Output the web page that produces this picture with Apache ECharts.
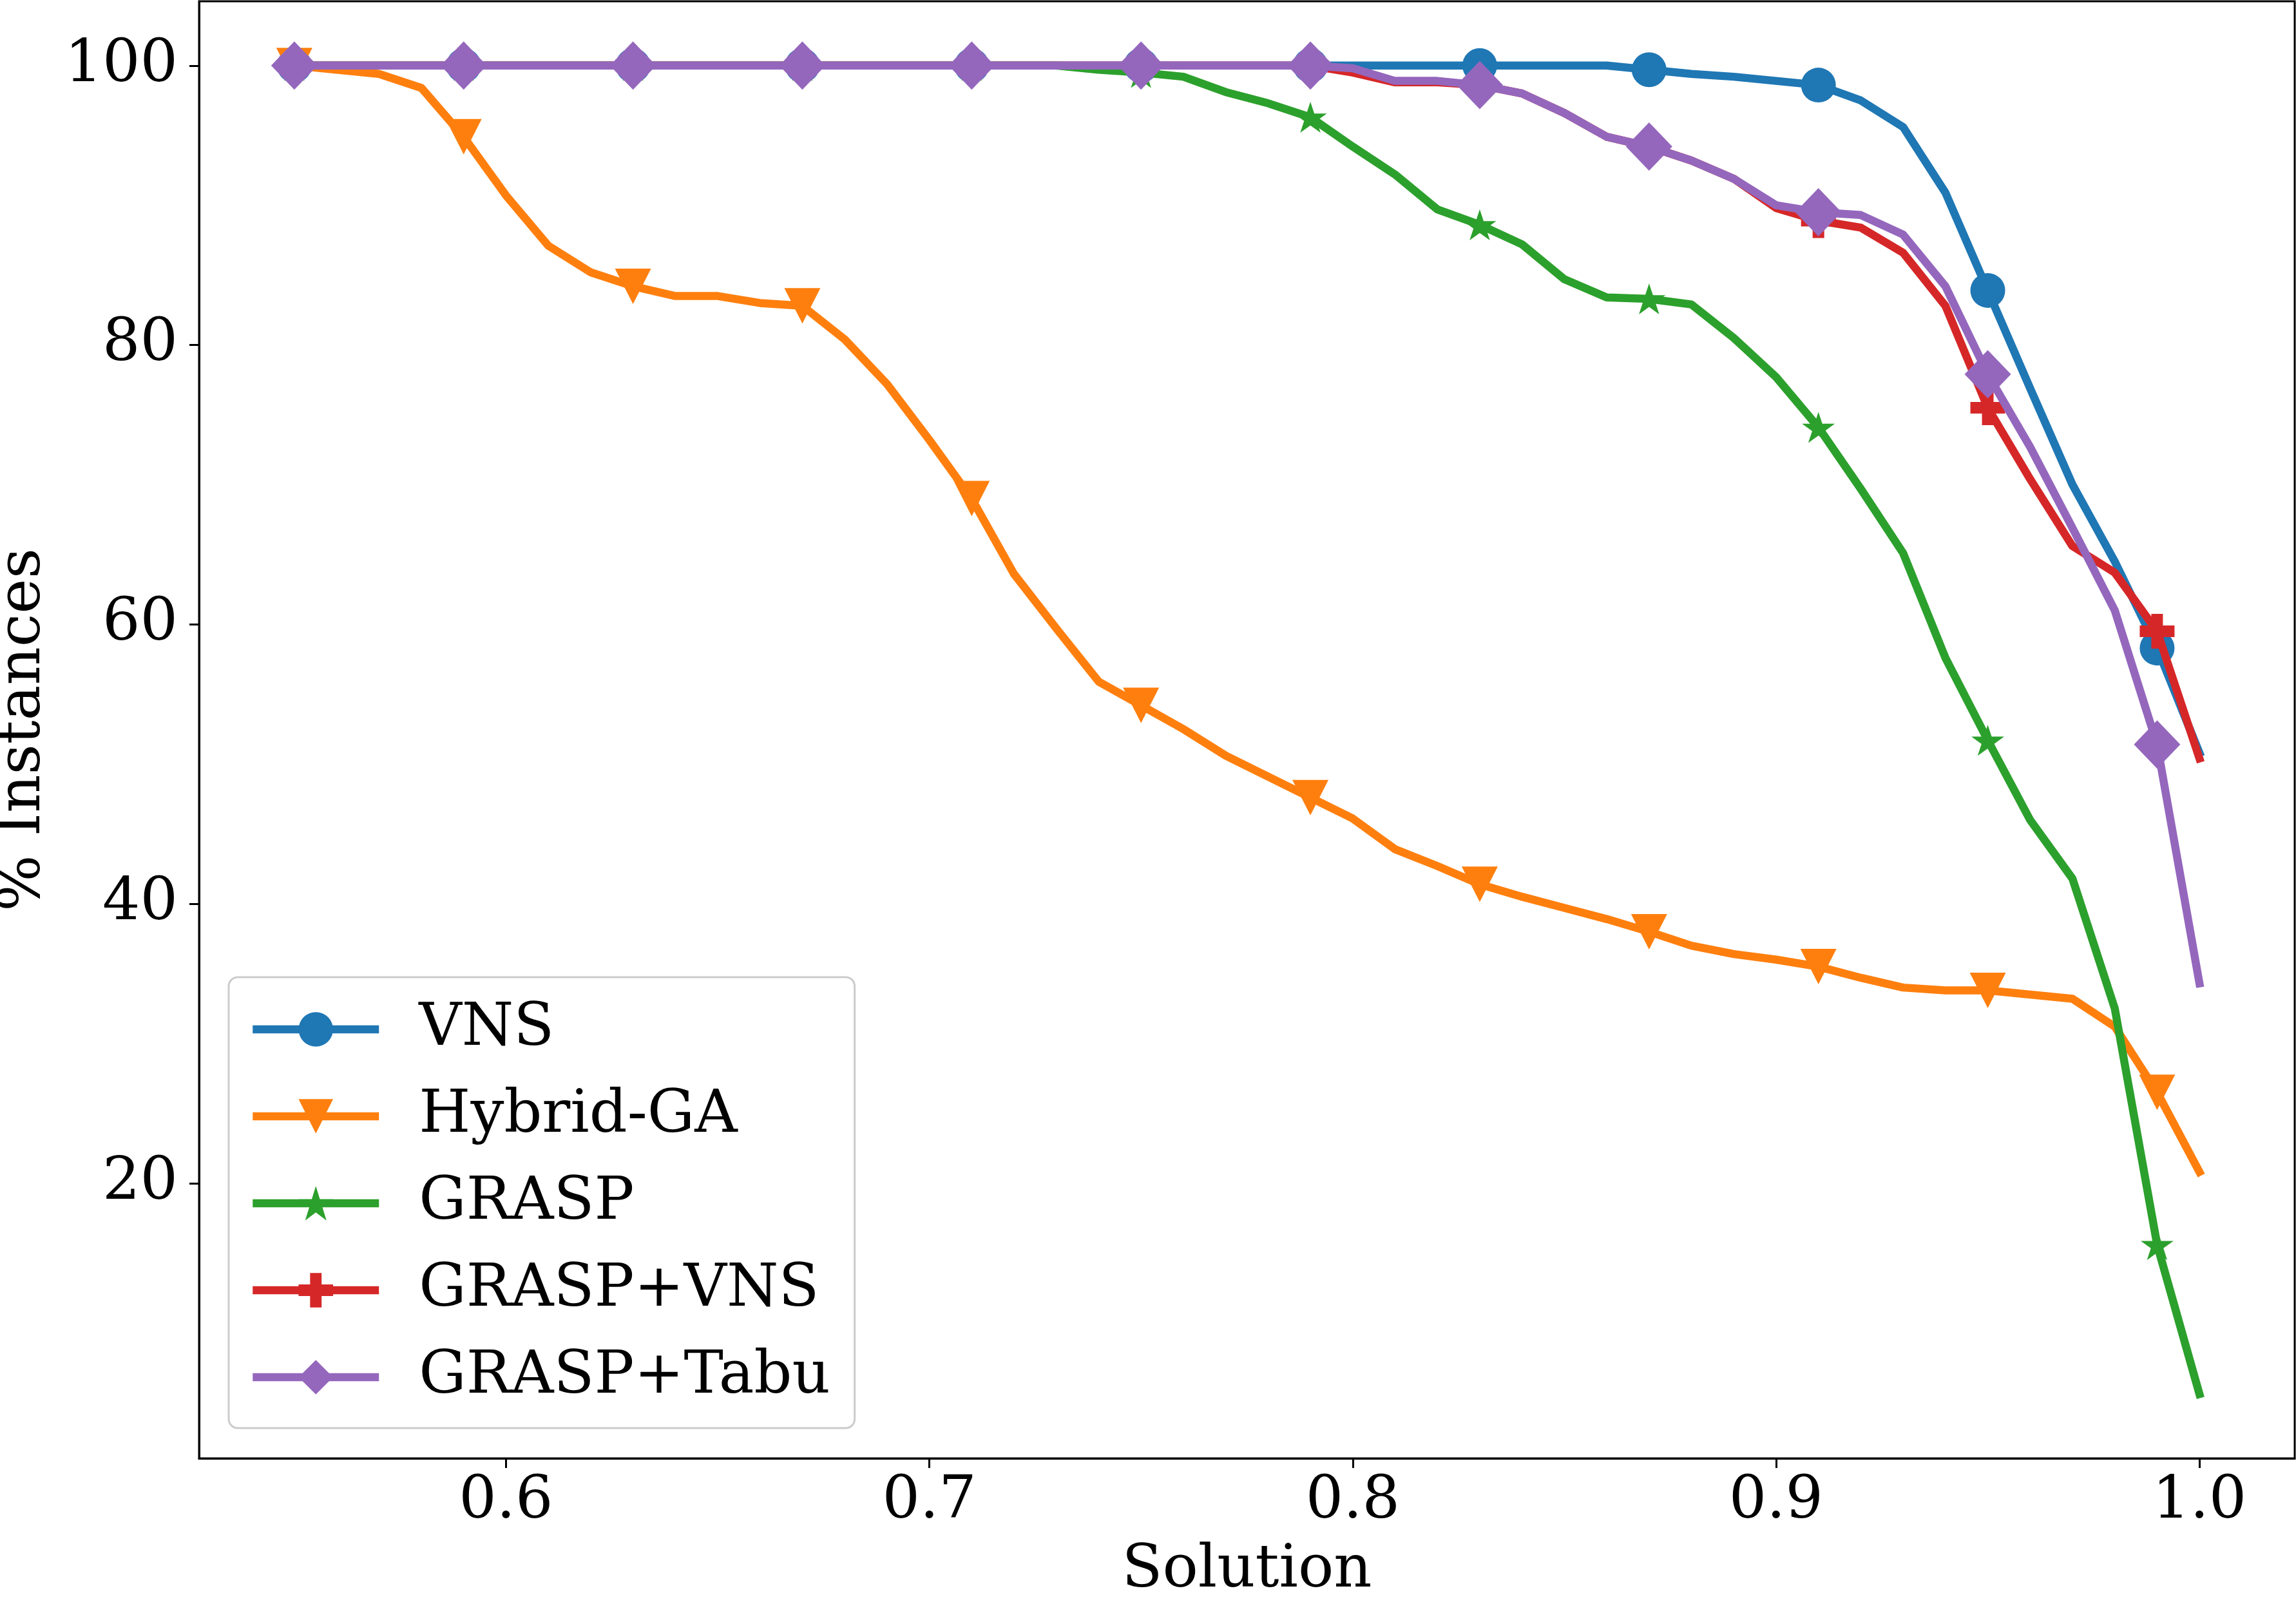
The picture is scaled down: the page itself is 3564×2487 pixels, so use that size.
<!DOCTYPE html>
<html>
<head>
<meta charset="utf-8">
<title>% Instances vs Solution</title>
<script src="https://cdn.jsdelivr.net/npm/echarts@6.0.0/dist/echarts.min.js"></script>
<style>
  html, body { margin: 0; padding: 0; background: #fff; }
  #chart { width: 3564px; height: 2487px; }
</style>
</head>
<body>
<div id="chart"></div>
<script>
// x positions (solution quality), one value per 0.01 step
const solution = [
  0.55, 0.56, 0.57, 0.58, 0.59, 0.60, 0.61, 0.62, 0.63, 0.64,
  0.65, 0.66, 0.67, 0.68, 0.69, 0.70, 0.71, 0.72, 0.73, 0.74,
  0.75, 0.76, 0.77, 0.78, 0.79, 0.80, 0.81, 0.82, 0.83, 0.84,
  0.85, 0.86, 0.87, 0.88, 0.89, 0.90, 0.91, 0.92, 0.93, 0.94,
  0.95, 0.96, 0.97, 0.98, 0.99, 1.00
]

const vns = [
  100, 100, 100, 100, 100, 100, 100, 100, 100, 100,
  100, 100, 100, 100, 100, 100, 100, 100, 100, 100,
  100, 100, 100, 100, 100, 100, 100, 100, 100, 100,
  100, 100, 99.7, 99.4, 99.2, 98.9, 98.6, 97.5, 95.6, 90.9,
  83.9, 76.9, 70.0, 64.5, 58.3, 50.8
]

const hybridGA = [
  100, 99.7, 99.4, 98.4, 94.9, 90.7, 87.1, 85.2, 84.2, 83.5,
  83.5, 83.0, 82.8, 80.4, 77.2, 73.2, 69.0, 63.6, 59.7, 55.9,
  54.2, 52.5, 50.6, 49.1, 47.6, 46.1, 43.9, 42.7, 41.4, 40.5,
  39.7, 38.9, 38.0, 37.0, 36.4, 36.0, 35.5, 34.7, 34.0, 33.8,
  33.8, 33.5, 33.2, 31.2, 26.5, 20.8
]

const grasp = [
  100, 100, 100, 100, 100, 100, 100, 100, 100, 100,
  100, 100, 100, 100, 100, 100, 100, 100, 100, 99.7,
  99.5, 99.2, 98.1, 97.3, 96.3, 94.2, 92.2, 89.7, 88.6, 87.2,
  84.7, 83.4, 83.3, 82.9, 80.5, 77.7, 74.1, 69.7, 65.1, 57.6,
  51.7, 46.0, 41.8, 32.5, 15.6, 4.9
]

const graspVns = [
  100, 100, 100, 100, 100, 100, 100, 100, 100, 100,
  100, 100, 100, 100, 100, 100, 100, 100, 100, 100,
  100, 100, 100, 100, 100, 99.5, 98.8, 98.8, 98.6, 98.0,
  96.6, 94.9, 94.2, 93.2, 91.9, 89.8, 88.9, 88.4, 86.6, 82.8,
  75.5, 70.4, 65.6, 63.7, 59.5, 50.4
]

const graspTabu = [
  100, 100, 100, 100, 100, 100, 100, 100, 100, 100,
  100, 100, 100, 100, 100, 100, 100, 100, 100, 100,
  100, 100, 100, 100, 100, 99.8, 98.9, 98.9, 98.6, 98.0,
  96.6, 94.9, 94.2, 93.2, 91.9, 90.0, 89.5, 89.3, 87.9, 84.2,
  77.9, 72.7, 66.9, 61.0, 51.4, 34.3
]

const seriesNames = ['VNS', 'Hybrid-GA', 'GRASP', 'GRASP+VNS', 'GRASP+Tabu']
const xTicks = [0.6, 0.7, 0.8, 0.9, 1.0]
const yTicks = [20, 40, 60, 80, 100]

const FONT = "'DejaVu Serif', serif"
const FONT_SIZE = 92
const LINE_W = 12.5
// 每 4 个点画一个标记 (matplotlib markevery=4)
const MARK_EVERY = 4

const STAR = 'path://M100,0 L122.45,69.1 L195.1,69.1 L136.33,111.8 L158.8,180.9 L100,138.2 L41.2,180.9 L63.67,111.8 L4.9,69.1 L77.55,69.1 Z'
const PLUS = 'path://M1,0 L2,0 L2,1 L3,1 L3,2 L2,2 L2,3 L1,3 L1,2 L0,2 L0,1 L1,1 Z'

const styles = [
  { color: '#1f77b4', symbol: 'circle', size: 54, rotate: 0 },
  { color: '#ff7f0e', symbol: 'triangle', size: [56, 55], rotate: 180 },
  { color: '#2ca02c', symbol: STAR, size: [51, 48], rotate: 0 },
  { color: '#d62728', symbol: PLUS, size: 54, rotate: 0 },
  { color: '#9467bd', symbol: 'diamond', size: [72, 75], rotate: 0 }
]

const values = [vns, hybridGA, grasp, graspVns, graspTabu]

const makeSeries = (name, i) => {
  const st = styles[i]
  return {
    name: name,
    type: 'line',
    z: 2 + i,
    data: solution.map((x, k) => [x, values[i][k]]),
    symbol: st.symbol,
    symbolRotate: st.rotate,
    symbolSize: (v, p) => (p.dataIndex % MARK_EVERY === 0 ? st.size : 0),
    showSymbol: true,
    showAllSymbol: true,
    itemStyle: { color: st.color },
    lineStyle: { color: st.color, width: LINE_W, join: 'round', cap: 'square' },
    emphasis: { disabled: true },
    animation: false
  }
}

const axisText = { fontFamily: FONT, fontSize: FONT_SIZE, color: '#000' }

const chart = echarts.init(document.getElementById('chart'), null, { renderer: 'canvas', devicePixelRatio: 1 })

chart.setOption({
  backgroundColor: '#fff',
  animation: false,
  grid: {
    left: 309, right: 2, top: 2, bottom: 223,
    containLabel: false,
    outerBoundsMode: 'none',
    show: true,
    borderColor: '#000',
    borderWidth: 3,
    backgroundColor: 'transparent'
  },
  legend: {
    left: 355,
    top: 1517,
    orient: 'vertical',
    data: seriesNames,
    itemWidth: 196,
    itemHeight: 67,
    itemGap: 43,
    padding: [35, 38, 33, 31],
    backgroundColor: 'rgba(255,255,255,0.8)',
    borderColor: '#cccccc',
    borderWidth: 3,
    borderRadius: 14,
    selectedMode: false,
    lineStyle: { width: LINE_W, cap: 'butt' },
    textStyle: Object.assign({ padding: [0, 0, 0, 57] }, axisText)
  },
  xAxis: {
    type: 'value',
    min: 0.5275,
    max: 1.0225,
    name: 'Solution',
    nameLocation: 'middle',
    nameGap: 129,
    nameTextStyle: axisText,
    axisLine: { show: true, onZero: false, lineStyle: { color: '#000', width: 3 } },
    axisTick: { show: true, inside: false, length: 15, customValues: xTicks, lineStyle: { color: '#000', width: 3 } },
    axisLabel: Object.assign({ margin: 22, customValues: xTicks, formatter: v => v.toFixed(1) }, axisText),
    splitLine: { show: false }
  },
  yAxis: {
    type: 'value',
    min: 0.3,
    max: 104.6,
    name: '% Instances',
    nameLocation: 'middle',
    nameGap: 226,
    nameTextStyle: axisText,
    axisLine: { show: true, onZero: false, lineStyle: { color: '#000', width: 3 } },
    axisTick: { show: true, inside: false, length: 15, customValues: yTicks, lineStyle: { color: '#000', width: 3 } },
    axisLabel: Object.assign({ margin: 33, customValues: yTicks, formatter: v => String(v) }, axisText),
    splitLine: { show: false }
  },
  series: seriesNames.map(makeSeries)
})
</script>
</body>
</html>
